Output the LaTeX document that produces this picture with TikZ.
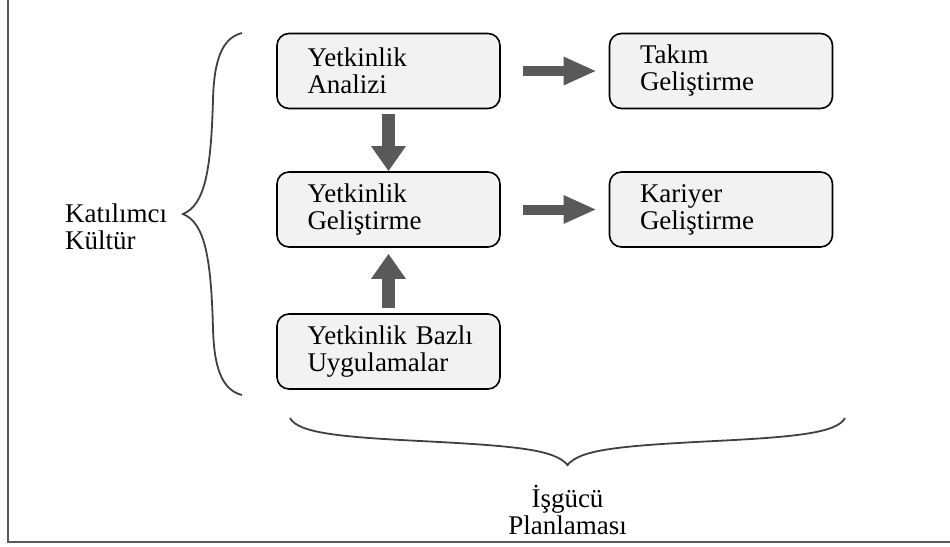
\documentclass[tikz,border=0pt]{standalone}
\usepackage{fontspec}
\setmainfont{Liberation Serif}
\usepackage{xcolor}
\usepackage{tikz}
\usetikzlibrary{arrows.meta,positioning}

\definecolor{boxgray}{HTML}{F2F2F2}
\definecolor{arrowgray}{HTML}{595959}
\definecolor{bracegray}{HTML}{404040}

\begin{document}
\begin{tikzpicture}[
  x=0.5pt, y=-0.5pt,
  box/.style={draw=black,line width=0.8pt,fill=boxgray,rounded corners=6pt,
    minimum height=37.5pt,text width=81pt,inner xsep=15.25pt,align=left,
    font=\fontsize{13.5}{13.5}\selectfont},
  harrow/.style={draw=arrowgray,line width=5pt,-{Triangle[width=13pt,length=16.5pt]}},
  varrow/.style={draw=arrowgray,line width=6.5pt,-{Triangle[width=16.5pt,length=12.5pt]}},
  brace/.style={draw=bracegray,line width=0.9pt},
  lbl/.style={font=\fontsize{13.5}{13.5}\selectfont}
]
\useasboundingbox (0,0) rectangle (950,547);
% frame (left and bottom only)
\draw[arrowgray,line width=1.3pt] (8,0) -- (8,542) -- (950,542);
% Column 1: competence boxes
\node[box] (ana) at (388.5,71) {Yetkinlik\\Analizi};
\node[box] (gel) at (388.5,209.5) {Yetkinlik\\Geliştirme};
\node[box] (bazli) at (388.5,351.5) {\mbox{Yetkinlik\ Bazlı}\\Uygulamalar};
% Column 2: outcomes
\node[box] (takim) at (721,71) {Takım\\Geliştirme};
\node[box] (kariyer) at (721,209.5) {Kariyer\\Geliştirme};
% Side labels
\node[lbl,align=left,anchor=west] (kat) at (58,227) {Katılımcı\\Kültür};
\node[lbl,align=center] (isg) at (567.5,510) {İşgücü\\Planlaması};
% Arrows
\draw[harrow,shorten <=11pt,shorten >=6pt] (ana) -- (takim);
\draw[harrow,shorten <=11pt,shorten >=6pt] (gel) -- (kariyer);
\draw[varrow,shorten <=2.5pt] (ana) -- (gel);
\draw[varrow,shorten <=2.5pt,shorten >=3pt] (bazli) -- (gel);
% Braces
\draw[brace] (242,33) .. controls (222,38) and (214,60) .. (213,100)
  .. controls (211,170) and (205,205) .. (183,214)
  .. controls (205,223) and (211,258) .. (213,328)
  .. controls (214,368) and (222,390) .. (242,395);
\draw[brace] (290,418) .. controls (298,433) and (340,437) .. (420,441)
  .. controls (520,446) and (555,450) .. (567.5,465)
  .. controls (580,450) and (615,446) .. (715,441)
  .. controls (795,437) and (837,433) .. (845,418);
\end{tikzpicture}
\end{document}
